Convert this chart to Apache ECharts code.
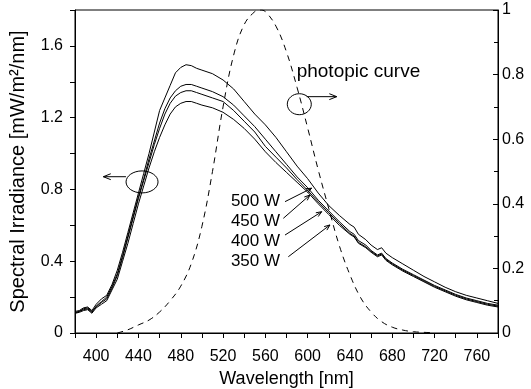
<!DOCTYPE html>
<html>
<head>
<meta charset="utf-8">
<script src="https://cdn.jsdelivr.net/npm/echarts@6/dist/echarts.min.js"></script>
<style>
  html, body { margin: 0; padding: 0; background: #fff; }
  #chart { width: 531px; height: 389px; }
</style>
</head>
<body>
<div id="chart"></div>
<script>
// Wavelength samples (nm) shared by the four lamp spectra
const wavelengths = [380, 384, 388, 392, 396, 400, 405, 410, 415, 420, 425, 430, 435, 440, 445, 450,
  455, 460, 465, 470, 475, 480, 485, 490, 495, 500, 510, 520, 530, 540, 550, 560, 570, 580, 590,
  600, 610, 620, 630, 640, 644, 648, 655, 660, 666, 670, 674, 680, 690, 700, 710, 720, 730, 740,
  750, 760, 770, 780];

// Spectral irradiance, mW/m²/nm
const irr500 = [0.12, 0.125, 0.14, 0.145, 0.125, 0.16, 0.19, 0.21, 0.27, 0.35, 0.45, 0.56, 0.67, 0.78,
  0.89, 1.0, 1.12, 1.24, 1.31, 1.38, 1.45, 1.48, 1.495, 1.49, 1.475, 1.465, 1.445, 1.41, 1.36, 1.29,
  1.22, 1.16, 1.09, 1.01, 0.93, 0.86, 0.78, 0.71, 0.655, 0.605, 0.59, 0.55, 0.52, 0.49, 0.465, 0.475,
  0.445, 0.42, 0.385, 0.35, 0.315, 0.285, 0.255, 0.23, 0.21, 0.195, 0.18, 0.165];
const irr450 = [0.11, 0.12, 0.13, 0.135, 0.115, 0.15, 0.175, 0.2, 0.26, 0.33, 0.43, 0.54, 0.65, 0.76,
  0.86, 0.97, 1.07, 1.17, 1.25, 1.31, 1.35, 1.375, 1.385, 1.385, 1.375, 1.365, 1.345, 1.317, 1.27, 1.21,
  1.15, 1.08, 1.01, 0.94, 0.87, 0.81, 0.74, 0.68, 0.62, 0.565, 0.55, 0.515, 0.49, 0.46, 0.435, 0.445,
  0.415, 0.39, 0.355, 0.325, 0.295, 0.265, 0.24, 0.215, 0.195, 0.18, 0.165, 0.155];
const irr400 = [0.115, 0.12, 0.135, 0.14, 0.12, 0.145, 0.17, 0.19, 0.25, 0.32, 0.42, 0.53, 0.64, 0.75,
  0.85, 0.95, 1.05, 1.14, 1.22, 1.28, 1.32, 1.34, 1.35, 1.35, 1.34, 1.33, 1.31, 1.29, 1.24, 1.18,
  1.12, 1.04, 0.98, 0.92, 0.855, 0.795, 0.73, 0.67, 0.61, 0.555, 0.54, 0.505, 0.48, 0.455, 0.43, 0.44,
  0.41, 0.385, 0.35, 0.32, 0.29, 0.26, 0.235, 0.21, 0.19, 0.175, 0.16, 0.15];
const irr350 = [0.11, 0.115, 0.125, 0.13, 0.11, 0.14, 0.16, 0.18, 0.24, 0.3, 0.4, 0.5, 0.61, 0.72,
  0.82, 0.92, 1.01, 1.09, 1.16, 1.22, 1.26, 1.28, 1.29, 1.29, 1.28, 1.27, 1.255, 1.23, 1.19, 1.14,
  1.08, 1.01, 0.95, 0.895, 0.84, 0.785, 0.72, 0.66, 0.6, 0.55, 0.535, 0.5, 0.475, 0.45, 0.425, 0.435,
  0.405, 0.38, 0.345, 0.315, 0.285, 0.255, 0.23, 0.205, 0.185, 0.17, 0.155, 0.145];

// Photopic luminous efficiency (right axis)
const photopicWl = [420, 430, 440, 450, 460, 470, 480, 490, 500, 510, 520, 530, 540, 550, 555, 560,
  570, 580, 590, 600, 610, 620, 630, 640, 650, 660, 670, 680, 690, 700, 710, 720];
const photopicV = [0.0, 0.01, 0.025, 0.04, 0.065, 0.1, 0.145, 0.215, 0.33, 0.5, 0.7, 0.86, 0.955, 0.995,
  1.0, 0.995, 0.95, 0.87, 0.76, 0.635, 0.505, 0.385, 0.27, 0.18, 0.11, 0.065, 0.035, 0.018, 0.009, 0.004,
  0.002, 0.001];

// Tick labels
const xLabels = [400, 440, 480, 520, 560, 600, 640, 680, 720, 760];
const leftLabels = ['0', '0.4', '0.8', '1.2', '1.6'];
const rightLabels = ['0', '0.2', '0.4', '0.6', '0.8', '1'];

// Lamp power labels and where their arrows point (nm, irradiance)
const powerNames = ['500 W', '450 W', '400 W', '350 W'];
const powerLabelAt = [[573.9, 0.732], [573.9, 0.624], [573.9, 0.509], [573.9, 0.397]];
const powerArrowFrom = [[578.6, 0.732], [577.0, 0.639], [578.6, 0.546], [581.7, 0.425]];
const powerArrowTo = [[603.8, 0.807], [602.2, 0.769], [613.3, 0.676], [621.1, 0.602]];

const FONT = '"Liberation Sans", Arial, Helvetica, sans-serif';
const pairs = (xs, ys) => xs.map((x, i) => [x, ys[i]]);

const chart = echarts.init(document.getElementById('chart'), null, { renderer: 'canvas' });

const lineSeries = (data, extra) => Object.assign({
  type: 'line', data, symbol: 'none', smooth: false, animation: false,
  lineStyle: { color: '#000', width: 1 }, silent: true
}, extra || {});

const option = {
  backgroundColor: '#fff',
  animation: false,
  grid: {
    left: 75, right: 33, top: 10, bottom: 56, containLabel: false, outerBoundsMode: 'none',
    show: true, borderColor: '#000', borderWidth: 1, backgroundColor: 'transparent'
  },
  xAxis: {
    type: 'value', min: 380, max: 780, interval: 20,
    axisLine: { show: true, onZero: false, lineStyle: { color: '#000', width: 1 } },
    axisTick: { show: true, inside: false, length: 5, lineStyle: { color: '#000', width: 1 } },
    axisLabel: {
      color: '#000', fontSize: 16, fontFamily: FONT, margin: 16,
      formatter: v => xLabels.includes(Math.round(v)) ? String(Math.round(v)) : ''
    },
    splitLine: { show: false },
    name: 'Wavelength [nm]', nameLocation: 'middle', nameGap: 36,
    nameTextStyle: { color: '#000', fontSize: 18, fontFamily: FONT }
  },
  yAxis: [{
    type: 'value', min: 0, max: 1.8, interval: 0.2, position: 'left',
    axisLine: { show: true, lineStyle: { color: '#000', width: 1 } },
    axisTick: { show: true, inside: false, length: 5, lineStyle: { color: '#000', width: 1 } },
    axisLabel: {
      color: '#000', fontSize: 16, fontFamily: FONT, margin: 12,
      formatter: v => { const k = Math.round(v * 10); return k % 4 === 0 && k / 4 < leftLabels.length ? leftLabels[k / 4] : ''; }
    },
    splitLine: { show: false },
    name: 'Spectral Irradiance [mW/m²/nm]', nameLocation: 'middle', nameGap: 47,
    nameTextStyle: { color: '#000', fontSize: 20, fontFamily: FONT }
  }, {
    type: 'value', min: 0, max: 1, interval: 0.2, position: 'right',
    axisLine: { show: true, lineStyle: { color: '#000', width: 1 } },
    axisTick: { show: true, inside: true, length: 5, lineStyle: { color: '#000', width: 1 } },
    minorTick: { show: true, splitNumber: 2, length: 4, lineStyle: { color: '#000', width: 1 } },
    axisLabel: {
      color: '#000', fontSize: 16, fontFamily: FONT, margin: 4,
      formatter: v => rightLabels[Math.round(v * 5)] ?? ''
    },
    splitLine: { show: false }
  }],
  series: [
    lineSeries(pairs(wavelengths, irr500), { name: '500 W' }),
    lineSeries(pairs(wavelengths, irr450), { name: '450 W' }),
    lineSeries(pairs(wavelengths, irr400), { name: '400 W' }),
    lineSeries(pairs(wavelengths, irr350), { name: '350 W' }),
    lineSeries(pairs(photopicWl, photopicV), {
      name: 'photopic curve', yAxisIndex: 1, smooth: 0.4,
      lineStyle: { color: '#000', width: 1, type: [6, 5] }
    })
  ]
};
chart.setOption(option);

// Annotations placed in data coordinates
const px = p => chart.convertToPixel({ xAxisIndex: 0, yAxisIndex: 0 }, p);
const stroke = { stroke: '#000', lineWidth: 1, fill: 'none' };

function arrow(from, to, head) {
  const a = px(from), b = px(to);
  const dx = b[0] - a[0], dy = b[1] - a[1], L = Math.hypot(dx, dy);
  const ux = dx / L, uy = dy / L, t = 0.38, c = Math.cos(t), s = Math.sin(t);
  const h1 = [b[0] - head * (ux * c - uy * s), b[1] - head * (uy * c + ux * s)];
  const h2 = [b[0] - head * (ux * c + uy * s), b[1] - head * (uy * c - ux * s)];
  return [
    { type: 'line', silent: true, shape: { x1: a[0], y1: a[1], x2: b[0], y2: b[1] }, style: stroke },
    { type: 'polyline', silent: true, shape: { points: [h1, b, h2] }, style: stroke }
  ];
}

const graphics = [];
// irradiance curves -> left axis
const le = px([443.4, 0.842]);
graphics.push({ type: 'ellipse', silent: true, shape: { cx: le[0], cy: le[1], rx: 16, ry: 11 }, style: stroke });
graphics.push(...arrow([428.2, 0.871], [406.8, 0.871], 8));
// photopic curve -> right axis
const re = px([592.1, 1.275]);
graphics.push({ type: 'ellipse', silent: true, shape: { cx: re[0], cy: re[1], rx: 12, ry: 10.5 }, style: stroke });
graphics.push(...arrow([599.1, 1.317], [627.5, 1.317], 8));
const pt = px([589.6, 1.457]);
graphics.push({ type: 'text', silent: true, x: pt[0], y: pt[1],
  style: { text: 'photopic curve', fill: '#000', fontSize: 19, fontFamily: FONT, align: 'left', verticalAlign: 'middle' } });

powerNames.forEach((name, i) => {
  const p = px(powerLabelAt[i]);
  graphics.push({ type: 'text', silent: true, x: p[0], y: p[1],
    style: { text: name, fill: '#000', fontSize: 17, fontFamily: FONT, align: 'right', verticalAlign: 'middle' } });
  graphics.push(...arrow(powerArrowFrom[i], powerArrowTo[i], 6));
});

chart.setOption({ graphic: { elements: graphics } });
</script>
</body>
</html>
